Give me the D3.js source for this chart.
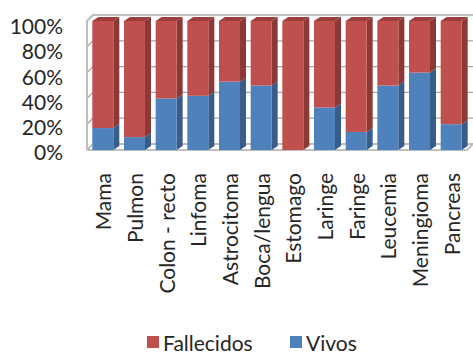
<!DOCTYPE html>
<html>
<head>
<meta charset="utf-8">
<script src="https://cdn.jsdelivr.net/npm/d3@7"></script>
<style>
  html, body { margin: 0; padding: 0; background: #fff; }
  svg { display: block; }
  text { font-family: Lato, "Open Sans", sans-serif; fill: #262626; }
</style>
</head>
<body>
<script>
// Survival by tumour type (100% stacked, 3D columns)
const categories = ["Mama", "Pulmon", "Colon - recto", "Linfoma", "Astrocitoma", "Boca/lengua",
                    "Estomago", "Laringe", "Faringe", "Leucemia", "Meningioma", "Pancreas"];
const vivos      = [17, 10, 40, 42, 53, 50, 0, 33, 14, 50, 60, 20];
const fallecidos = [83, 90, 60, 58, 47, 50, 100, 67, 86, 50, 40, 80];
const seriesNames = ["Vivos", "Fallecidos"];
const tickValues = [0, 0.2, 0.4, 0.6, 0.8, 1];
const tickLabels = ["0%", "20%", "40%", "60%", "80%", "100%"];
const legendOrder = ["Fallecidos", "Vivos"];

const W = 473, H = 356;
const colors = {
  Vivos:      { front: "#4f81bd", side: "#385d8a", top: "#42699a" },
  Fallecidos: { front: "#c0504d", side: "#8c3836", top: "#9b3e3c" }
};

const svg = d3.select("body").append("svg").attr("width", W).attr("height", H);

// front plane of the plot box, and the oblique depth of walls and bars
const frontLeft = 87, frontRight = 467;
const wallDx = 6, wallDy = 6;
const barDx = 6, barDy = 4;

const x = d3.scaleBand().domain(categories).range([frontLeft, frontRight])
  .paddingInner(0.337).paddingOuter(0.168);
const y = d3.scaleLinear().domain([0, 1]).range([150, 21]);

const rows = categories.map((c, i) => ({ cat: c, Vivos: vivos[i], Fallecidos: fallecidos[i] }));
const stack = d3.stack().keys(seriesNames).offset(d3.stackOffsetExpand);
const layers = stack(rows);

const wallColor = "#bfbfbf", gridColor = "#a6a6a6";
const line = d3.line();

// back wall gridlines and their continuation across the side wall
const grid = svg.append("g");
tickValues.forEach(v => {
  const yf = y(v);
  grid.append("path")
    .attr("d", line([[frontLeft, yf], [frontLeft + wallDx, yf - wallDy], [W + 2, yf - wallDy]]))
    .attr("fill", "none").attr("stroke", gridColor).attr("stroke-width", 1.3);
});

// left wall and floor outline
const walls = svg.append("g").attr("fill", "none").attr("stroke", wallColor).attr("stroke-width", 2);
walls.append("path").attr("d", line([
  [frontLeft, y(0)], [frontLeft, y(1)], [frontLeft + wallDx, y(1) - wallDy], [W + 2, y(1) - wallDy]
]));
walls.append("path").attr("d", line([
  [frontLeft, y(0)], [frontRight, y(0)], [frontRight + wallDx, y(0) - wallDy]
]));

// columns: for each category draw the side, top and front faces of each segment
const bars = svg.append("g");
categories.forEach((c, i) => {
  const x0 = x(c), x1 = x0 + x.bandwidth();
  const g = bars.append("g");
  layers.forEach(layer => {
    const d = layer[i];
    if (d[1] - d[0] <= 0) return;
    const col = colors[layer.key];
    const yb = y(d[0]), yt = y(d[1]);
    // right side face
    g.append("path").attr("d", line([
      [x1, yb], [x1 + barDx, yb - barDy], [x1 + barDx, yt - barDy], [x1, yt]
    ]) + "Z").attr("fill", col.side);
    // top face on the uppermost segment
    if (d[1] >= 1) {
      g.append("path").attr("d", line([
        [x0, yt], [x0 + barDx, yt - barDy], [x1 + barDx, yt - barDy], [x1, yt]
      ]) + "Z").attr("fill", col.top);
    }
    g.append("rect").attr("x", x0).attr("y", yt).attr("width", x1 - x0).attr("height", yb - yt)
      .attr("fill", col.front);
  });
});

// value axis
const yLab = d3.scaleLinear().domain([0, 1]).range([153, 27]);
const yAxis = d3.axisLeft(yLab).tickValues(tickValues).tickSize(0).tickPadding(0)
  .tickFormat((d, i) => tickLabels[i]);
const ya = svg.append("g").attr("transform", "translate(63,0)").call(yAxis);
ya.select(".domain").remove();
ya.selectAll("text").style("font-family", "Lato, 'Open Sans', sans-serif")
  .style("font-size", "21px").attr("fill", "#262626");

// category labels, rotated
svg.append("g").selectAll("text").data(categories).join("text")
  .attr("transform", d => `translate(${x(d) + x.bandwidth() / 2 + 8.5},173) rotate(-90)`)
  .attr("text-anchor", "end")
  .style("font-size", "21px")
  .text(d => d);

// legend along the bottom edge
const legend = svg.append("g");
const legendX = { Fallecidos: 147, Vivos: 290 };
legendOrder.forEach(k => {
  legend.append("rect").attr("x", legendX[k]).attr("y", 336).attr("width", 12).attr("height", 12)
    .attr("fill", colors[k].front);
  legend.append("text").attr("x", legendX[k] + 16).attr("y", 350.5)
    .style("font-size", "21px").text(k);
});
</script>
</body>
</html>
